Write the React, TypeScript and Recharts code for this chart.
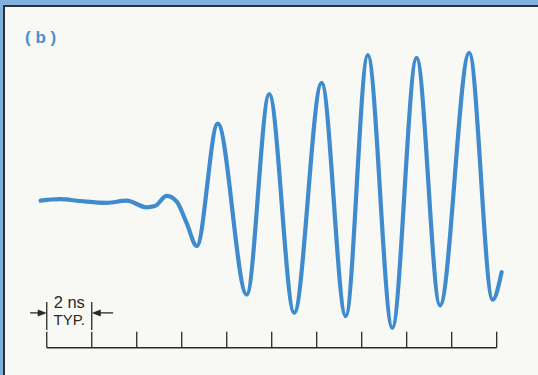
import { LineChart, Line, XAxis, YAxis, ReferenceLine, ReferenceDot } from "recharts";

// time in ns, amplitude in arbitrary units
const timeNs = [
  -0.27, 0.59, 1.48, 2.67, 3.56, 4.44, 4.81, 5.33, 5.78, 6.22, 6.67,
  7.6, 8.89, 9.89, 11.0, 12.22, 13.29, 14.27, 15.36, 16.44, 17.48, 18.78, 19.82, 20.22,
];
const amplitude = [
  -0.1, -0.05, -0.11, -0.17, -0.1, -0.32, -0.28, 0.06, -0.13, -0.85, -1.61,
  2.47, -3.23, 3.45, -3.84, 3.83, -3.95, 4.75, -4.34, 4.66, -3.59, 4.83, -3.4, -2.48,
];
const tickNs = [0, 2, 4, 6, 8, 10, 12, 14, 16, 18, 20];

const data = timeNs.map((t, i) => ({ t, v: amplitude[i] }));

const BLUE_LINE = "#3f8bcd";
const INK = "#2a2a2a";
const FONT = "Liberation Sans, Arial, sans-serif";

const arrowShape = (p: any) => {
  const { x1, y1, x2, y2 } = p;
  const dir = Math.sign(x2 - x1);
  return (
    <g>
      <line x1={x1} y1={y1} x2={x2 - dir * 6} y2={y2} stroke={INK} strokeWidth={1.3} />
      <polygon
        points={`${x2},${y2} ${x2 - dir * 9},${y2 - 3.5} ${x2 - dir * 9},${y2 + 3.5}`}
        fill={INK}
      />
    </g>
  );
};

const dimLabel = (p: any) => (
  <g>
    <text x={p.cx} y={p.cy - 1} textAnchor="middle" fontSize={16.5} fontFamily={FONT} fill={INK}>
      2 ns
    </text>
    <text x={p.cx} y={p.cy + 16} textAnchor="middle" fontSize={15} fontFamily={FONT} fill={INK}>
      TYP.
    </text>
  </g>
);

export default function App() {
  return (
    <div
      style={{
        position: "fixed",
        left: 0,
        top: 0,
        width: 538,
        height: 375,
        background: "#80b1dc",
        overflow: "hidden",
      }}
    >
      <div
        style={{
          position: "absolute",
          left: 3,
          top: 5,
          width: 535,
          height: 370,
          background: "#f8f8f4",
          borderLeft: "2.5px solid #2b2f36",
          borderTop: "2.5px solid #2b2f36",
        }}
      />
      <div
        style={{
          position: "absolute",
          left: 25,
          top: 28,
          color: "#4a8fd0",
          fontFamily: FONT,
          fontSize: 17,
          fontWeight: "bold",
          whiteSpace: "pre",
        }}
      >
        ( b )
      </div>
      <div style={{ position: "absolute", left: 0, top: 0 }}>
        <LineChart
          width={538}
          height={375}
          data={data}
          margin={{ top: 47.7, right: 35.7, bottom: 27.3, left: 40 }}
        >
          <XAxis dataKey="t" type="number" domain={[-0.3, 20.25]} hide />
          <YAxis type="number" domain={[-5, 5]} hide />
          <ReferenceLine
            segment={[{ x: 0, y: -5 }, { x: 20, y: -5 }]}
            stroke={INK}
            strokeWidth={1.5}
            ifOverflow="visible"
          />
          {tickNs.map((t) => (
            <ReferenceLine
              key={t}
              segment={[{ x: t, y: -5 }, { x: t, y: -4.47 }]}
              stroke={INK}
              strokeWidth={1.3}
              ifOverflow="visible"
            />
          ))}
          <ReferenceLine
            segment={[{ x: 0, y: -3.48 }, { x: 0, y: -4.41 }]}
            stroke={INK}
            strokeWidth={1.3}
            ifOverflow="visible"
          />
          <ReferenceLine
            segment={[{ x: 2, y: -3.48 }, { x: 2, y: -4.41 }]}
            stroke={INK}
            strokeWidth={1.3}
            ifOverflow="visible"
          />
          <ReferenceLine
            segment={[{ x: -0.74, y: -3.84 }, { x: 0, y: -3.84 }]}
            shape={arrowShape}
            ifOverflow="visible"
          />
          <ReferenceLine
            segment={[{ x: 2.95, y: -3.84 }, { x: 2, y: -3.84 }]}
            shape={arrowShape}
            ifOverflow="visible"
          />
          <ReferenceDot x={1} y={-3.7} shape={dimLabel} ifOverflow="visible" />
          <Line
            type="monotone"
            dataKey="v"
            stroke={BLUE_LINE}
            strokeWidth={4.2}
            strokeLinecap="round"
            strokeLinejoin="round"
            dot={false}
            isAnimationActive={false}
          />
        </LineChart>
      </div>
    </div>
  );
}
